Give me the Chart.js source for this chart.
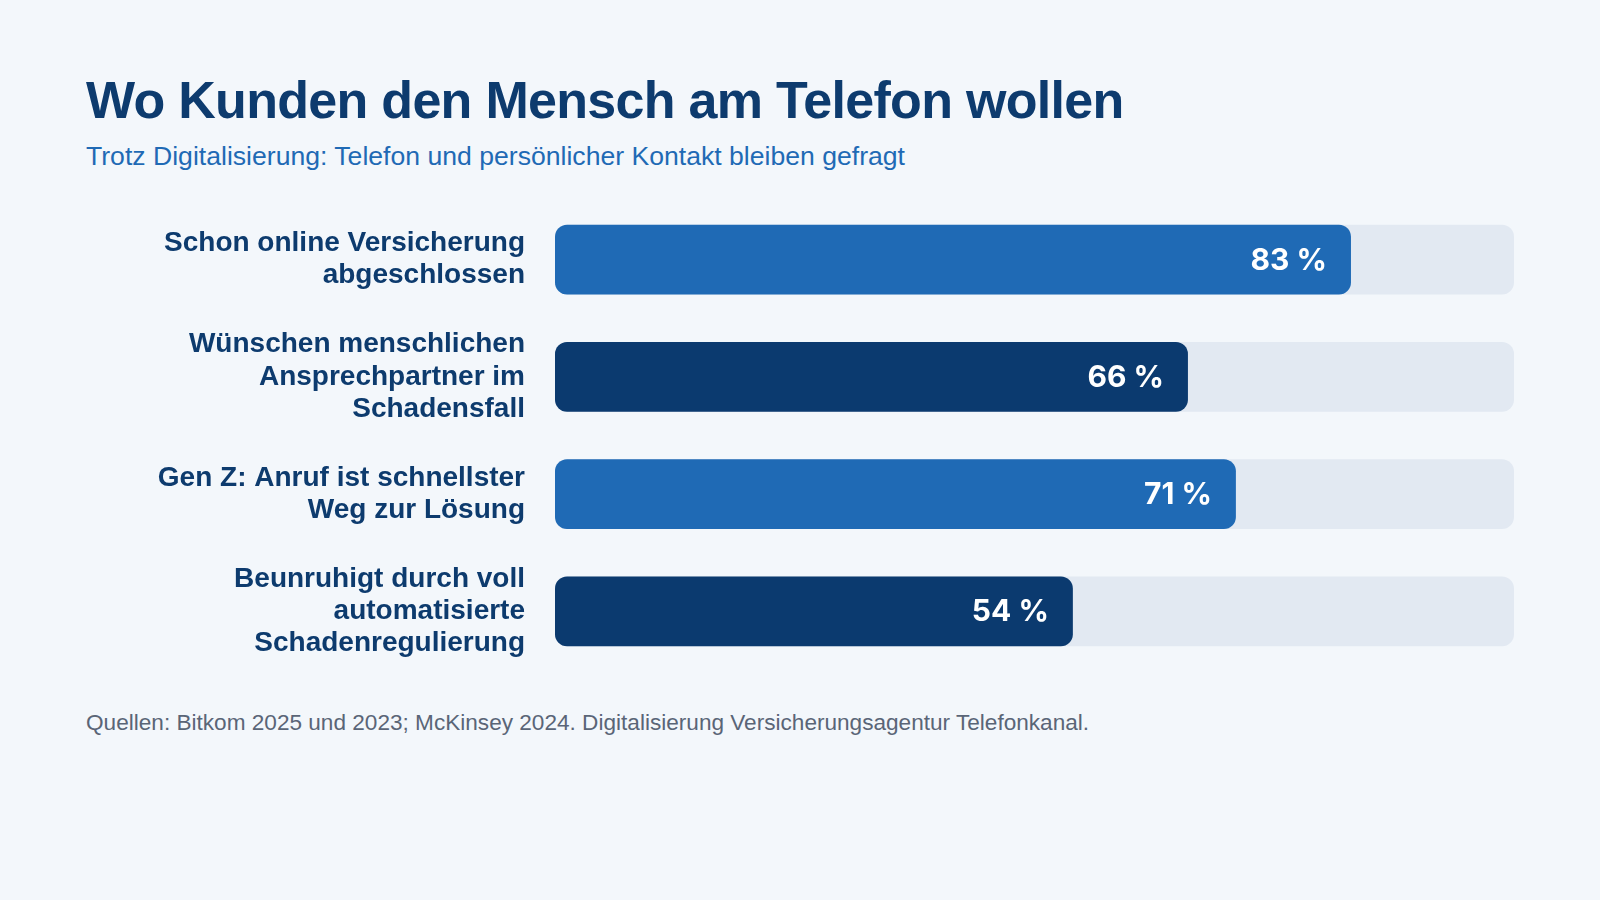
<!DOCTYPE html>
<html lang="de">
<head>
<meta charset="utf-8">
<title>Wo Kunden den Mensch am Telefon wollen</title>
<script src="https://cdn.jsdelivr.net/npm/chart.js@4"></script>
<style>
  html, body { margin: 0; padding: 0; }
  body {
    width: 1600px; height: 900px; overflow: hidden;
    background: #f3f7fb;
    font-family: "Liberation Sans", Arial, sans-serif;
    position: relative;
  }
  h1 {
    position: absolute; left: 86px; top: 70px; margin: 0;
    font-size: 52px; font-weight: bold; color: #0d3b6e; letter-spacing: -0.7px;
  }
  .sub {
    position: absolute; left: 86px; top: 141px; margin: 0;
    font-size: 26.6px; color: #1f6ab5;
  }
  .src {
    position: absolute; left: 86px; top: 710px; margin: 0;
    font-size: 22.6px; color: #5a6577;
  }
  #wrap { position: absolute; left: 0; top: 191px; width: 1600px; height: 490px; }
</style>
</head>
<body>
<h1>Wo Kunden den Mensch am Telefon wollen</h1>
<p class="sub">Trotz Digitalisierung: Telefon und persönlicher Kontakt bleiben gefragt</p>
<div id="wrap"><canvas id="chart"></canvas></div>
<p class="src">Quellen: Bitkom 2025 und 2023; McKinsey 2024. Digitalisierung Versicherungsagentur Telefonkanal.</p>

<script>
// Daten
const labels = [
    ['Schon online Versicherung', 'abgeschlossen'],
    ['Wünschen menschlichen', 'Ansprechpartner im', 'Schadensfall'],
    ['Gen Z: Anruf ist schnellster', 'Weg zur Lösung'],
    ['Beunruhigt durch voll', 'automatisierte', 'Schadenregulierung']
];
const values = [83, 66, 71, 54];
const trackValues = [100, 100, 100, 100];
const barColors = ['#1f6ab5', '#0b3a6f', '#1f6ab5', '#0b3a6f'];

// Prozentwerte in die Balken schreiben
const valueLabels = {
    id: 'valueLabels',
    afterDatasetsDraw(chart) {
        const ctx = chart.ctx;
        const meta = chart.getDatasetMeta(1);
        ctx.save();
        ctx.fillStyle = '#ffffff';
        ctx.font = 'bold 30px Inter, "Liberation Sans", sans-serif';
        ctx.textAlign = 'right';
        ctx.textBaseline = 'middle';
        meta.data.forEach((bar, i) => {
            ctx.fillText(values[i] + ' %', bar.x - 24, bar.y + 1);
        });
        ctx.restore();
    }
};

new Chart(document.getElementById('chart'), {
    type: 'bar',
    data: {
        labels: labels,
        datasets: [
            {
                data: trackValues,
                backgroundColor: '#e2e9f2',
                borderRadius: 12,
                borderSkipped: false,
                grouped: false,
                order: 2
            },
            {
                data: values,
                backgroundColor: barColors,
                borderRadius: 12,
                borderSkipped: false,
                grouped: false,
                order: 1
            }
        ]
    },
    options: {
        indexAxis: 'y',
        responsive: true,
        maintainAspectRatio: false,
        animation: false,
        layout: { padding: { top: 10, bottom: 11, right: 86, left: 0 } },
        datasets: { bar: { categoryPercentage: 0.595, barPercentage: 1 } },
        plugins: {
            legend: { display: false },
            tooltip: { enabled: false }
        },
        scales: {
            x: {
                display: false,
                min: 0,
                max: 100
            },
            y: {
                grid: { display: false, drawTicks: false },
                border: { display: false },
                afterFit: function(scale) {
                    // feste Breite, keine Extra-Abstände oben/unten
                    scale.width = 555;
                    scale.paddingTop = 0;
                    scale.paddingBottom = 0;
                },
                ticks: {
                    padding: 30,
                    color: '#0d3b6e',
                    font: { family: '"Liberation Sans", Arial, sans-serif', size: 28, weight: 'bold', lineHeight: 1.15 }
                }
            }
        }
    },
    plugins: [valueLabels]
});
</script>
</body>
</html>
